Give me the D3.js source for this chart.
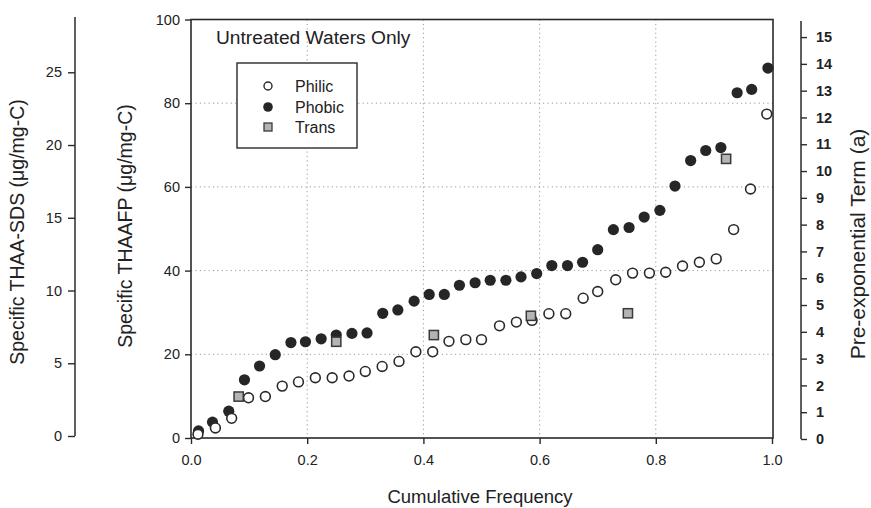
<!DOCTYPE html>
<html>
<head>
<meta charset="utf-8">
<script src="https://cdn.jsdelivr.net/npm/d3@7"></script>
<style>
  html, body { margin: 0; padding: 0; background: #fff; }
  svg { display: block; }
  text { font-family: "Liberation Sans", Arial, Helvetica, sans-serif; fill: #222; }
</style>
</head>
<body>
<svg id="chart" width="871" height="508"></svg>
<script>
// ---- data ----
const philicX = [0.012,0.042,0.070,0.099,0.128,0.157,0.185,0.214,0.243,0.272,0.300,0.329,0.358,0.387,0.416,0.444,0.473,0.500,0.531,0.560,0.587,0.616,0.645,0.675,0.700,0.731,0.760,0.789,0.817,0.846,0.875,0.904,0.934,0.963,0.991];
const philicY = [0.9,2.4,4.7,9.6,9.9,12.4,13.4,14.4,14.4,14.8,15.9,17.1,18.3,20.6,20.6,23.1,23.5,23.5,26.8,27.7,28.1,29.7,29.7,33.4,35.0,37.8,39.4,39.4,39.6,41.1,42.0,42.8,49.8,59.5,77.4];
const phobicX = [0.013,0.037,0.065,0.092,0.118,0.145,0.172,0.197,0.224,0.250,0.277,0.303,0.330,0.356,0.384,0.410,0.436,0.462,0.489,0.515,0.542,0.568,0.595,0.621,0.648,0.674,0.700,0.727,0.754,0.780,0.807,0.833,0.860,0.886,0.912,0.940,0.965,0.993];
const phobicY = [1.7,3.8,6.4,13.9,17.2,19.9,22.8,23.0,23.7,24.6,25.0,25.1,29.8,30.6,32.7,34.3,34.3,36.5,37.1,37.7,37.7,38.5,39.3,41.2,41.2,42.0,45.0,49.8,50.3,52.8,54.4,60.2,66.3,68.7,69.4,82.5,83.3,88.4];
const transX = [0.082,0.250,0.418,0.585,0.752,0.921];
const transY = [9.9,23.0,24.6,29.2,29.8,66.7];
const xTicks = [0,0.2,0.4,0.6,0.8,1.0];
const yTicks = [0,20,40,60,80,100];
const sdsTicks = [0,5,10,15,20,25];
const preTicks = [0,1,2,3,4,5,6,7,8,9,10,11,12,13,14,15];
const legendItems = ["Philic","Phobic","Trans"];
const titleMain = "Untreated Waters Only";

// ---- layout ----
const svg = d3.select("#chart");
const X0 = 191, X1 = 773, Y0 = 438, Y1 = 19.5;
const x = d3.scaleLinear().domain([0,1]).range([X0, X1 - 1]);
const y = d3.scaleLinear().domain([0,100]).range([Y0, Y1]);
const ySds = d3.scaleLinear().domain([0,28.8]).range([436, 17]);
const yPre = d3.scaleLinear().domain([0,15.6]).range([439, 21]);
const ink = "#2a2a2a";

// grid (dotted)
const grid = svg.append("g");
grid.selectAll("line.h").data(yTicks.filter(d => d > 0 && d < 100)).join("line")
  .attr("x1", X0).attr("x2", X1).attr("y1", d => y(d)).attr("y2", d => y(d))
  .attr("stroke", "#9a9a9a").attr("stroke-width", 1).attr("stroke-dasharray", "1.2,3.2");
grid.selectAll("line.v").data(xTicks.filter(d => d > 0 && d < 1)).join("line")
  .attr("x1", d => x(d)).attr("x2", d => x(d)).attr("y1", Y1).attr("y2", Y0)
  .attr("stroke", "#9a9a9a").attr("stroke-width", 1).attr("stroke-dasharray", "1.2,3.2");

// frame
svg.append("rect").attr("x", X0).attr("y", Y1).attr("width", X1 - X0).attr("height", Y0 - Y1)
  .attr("fill", "none").attr("stroke", ink).attr("stroke-width", 1.6);

function styleAxis(g, size) {
  g.selectAll(".domain").remove();
  g.selectAll(".tick line").attr("stroke", ink).attr("stroke-width", 1.4);
  g.selectAll(".tick text").attr("font-size", size).attr("fill", "#222")
    .attr("font-family", '"Liberation Sans", Arial, sans-serif');
}

// bottom axis
const gx = svg.append("g").attr("transform", `translate(0,${Y0})`)
  .call(d3.axisBottom(x).tickValues(xTicks).tickFormat(d3.format(".1f")).tickSize(6).tickPadding(11));
styleAxis(gx, 14.5);

// main left axis
const gy = svg.append("g").attr("transform", `translate(${X0},0)`)
  .call(d3.axisLeft(y).tickValues(yTicks).tickSize(6).tickPadding(5));
styleAxis(gy, 14.5);

// far-left axis
const sdsX = 75;
const gs = svg.append("g").attr("transform", `translate(${sdsX},0)`)
  .call(d3.axisLeft(ySds).tickValues(sdsTicks).tickSize(7).tickPadding(6));
styleAxis(gs, 14.5);
svg.append("line").attr("x1", sdsX).attr("x2", sdsX).attr("y1", ySds.range()[1]).attr("y2", ySds(0))
  .attr("stroke", ink).attr("stroke-width", 1.5);

// right axis
const preX = 801;
const gp = svg.append("g").attr("transform", `translate(${preX},0)`)
  .call(d3.axisRight(yPre).tickValues(preTicks).tickSize(6).tickPadding(9));
styleAxis(gp, 14.5);
gp.selectAll(".tick text").attr("font-weight", "bold").attr("fill", "#333");
svg.append("line").attr("x1", preX).attr("x2", preX).attr("y1", yPre.range()[1]).attr("y2", yPre(0))
  .attr("stroke", ink).attr("stroke-width", 1.5);

// axis titles
svg.append("text").attr("x", 480).attr("y", 503).attr("text-anchor", "middle")
  .attr("font-size", 18.5).text("Cumulative Frequency");
svg.append("text").attr("transform", "translate(24,232) rotate(-90)").attr("text-anchor", "middle")
  .attr("font-size", 19.5).text("Specific THAA-SDS (\u03bcg/mg-C)");
svg.append("text").attr("transform", "translate(132,226) rotate(-90)").attr("text-anchor", "middle")
  .attr("font-size", 19.5).text("Specific THAAFP (\u03bcg/mg-C)");
svg.append("text").attr("transform", "translate(865,244) rotate(-90)").attr("text-anchor", "middle")
  .attr("font-size", 21).text("Pre-exponential Term (a)");

// annotation
svg.append("text").attr("x", 216).attr("y", 43.5).attr("font-size", 19.2).text(titleMain);

// data marks
const pts = svg.append("g");
pts.selectAll("circle.phobic").data(phobicX.map((d,i) => [d, phobicY[i]])).join("circle")
  .attr("cx", d => x(d[0])).attr("cy", d => y(d[1])).attr("r", 5.6).attr("fill", "#262626");
pts.selectAll("circle.philic").data(philicX.map((d,i) => [d, philicY[i]])).join("circle")
  .attr("cx", d => x(d[0])).attr("cy", d => y(d[1])).attr("r", 4.9)
  .attr("fill", "#fff").attr("stroke", "#2a2a2a").attr("stroke-width", 1.6);
pts.selectAll("rect.trans").data(transX.map((d,i) => [d, transY[i]])).join("rect")
  .attr("x", d => x(d[0]) - 4.6).attr("y", d => y(d[1]) - 4.6).attr("width", 9.2).attr("height", 9.2)
  .attr("fill", "#b4b4b4").attr("stroke", "#3a3a3a").attr("stroke-width", 1.5);

// legend
const lg = svg.append("g");
lg.append("rect").attr("x", 237).attr("y", 63).attr("width", 120).attr("height", 85)
  .attr("fill", "#fff").attr("stroke", ink).attr("stroke-width", 1.4);
const rowY = [86, 107, 127];
legendItems.forEach((name, i) => {
  const cy = rowY[i];
  if (i === 0) lg.append("circle").attr("cx", 268).attr("cy", cy).attr("r", 4).attr("fill", "#fff").attr("stroke", "#2a2a2a").attr("stroke-width", 1.4);
  if (i === 1) lg.append("circle").attr("cx", 268).attr("cy", cy).attr("r", 4.8).attr("fill", "#262626");
  if (i === 2) lg.append("rect").attr("x", 264).attr("y", cy - 4).attr("width", 8).attr("height", 8).attr("fill", "#b4b4b4").attr("stroke", "#3a3a3a").attr("stroke-width", 1.3);
  lg.append("text").attr("x", 295).attr("y", cy + 5.5).attr("font-size", 16).text(name);
});
</script>
</body>
</html>
